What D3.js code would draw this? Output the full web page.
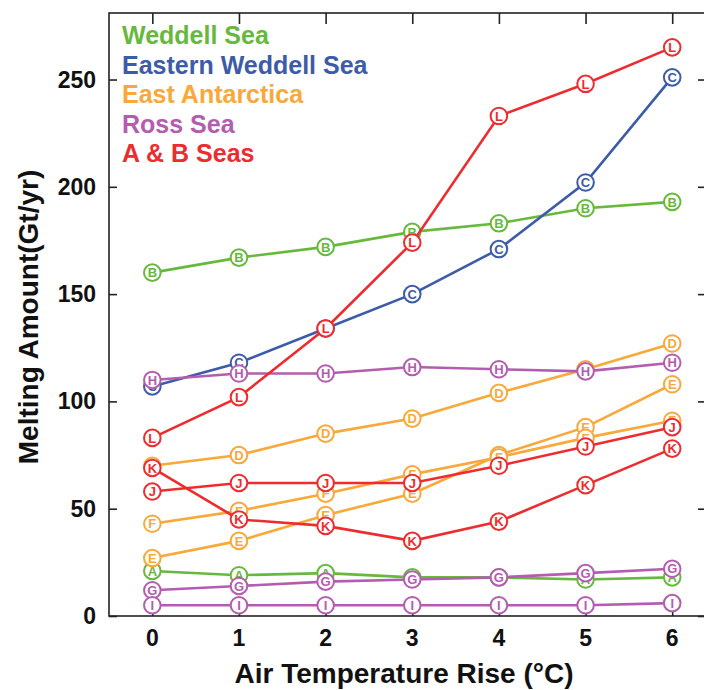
<!DOCTYPE html>
<html>
<head>
<meta charset="utf-8">
<script src="https://cdn.jsdelivr.net/npm/d3@7"></script>
<style>
  body { margin: 0; background: #fff; }
  svg { display: block; font-family: "Liberation Sans", Arial, Helvetica, sans-serif; }
</style>
</head>
<body>
<svg id="chart" width="704" height="690"></svg>
<script>
// air temperature rise (°C)
const temps = [0, 1, 2, 3, 4, 5, 6];

// melting amount (Gt/yr), one array per marker letter
const seriesA = [21, 19, 20, 18, 18, 17, 18];
const seriesB = [160, 167, 172, 179, 183, 190, 193];
const seriesC = [107, 118, 134, 150, 171, 202, 251];
const seriesD = [70, 75, 85, 92, 104, 115, 127];
const seriesE = [27, 35, 47, 57, 75, 88, 108];
const seriesF = [43, 49, 57, 66, 74, 83, 91];
const seriesG = [12, 14, 16, 17, 18, 20, 22];
const seriesH = [110, 113, 113, 116, 115, 114, 118];
const seriesI = [5, 5, 5, 5, 5, 5, 6];
const seriesJ = [58, 62, 62, 62, 70, 79, 88];
const seriesK = [69, 45, 42, 35, 44, 61, 78];
const seriesL = [83, 102, 134, 174, 233, 248, 265];

const regions = ["Weddell Sea", "Eastern Weddell Sea", "East Antarctica", "Ross Sea", "A & B Seas"];
const regionColors = ["#66b93c", "#3c5ba8", "#f9a83a", "#b45db0", "#ee2c2f"];

const yTicks = [0, 50, 100, 150, 200, 250];

// letter -> region index, values
const series = [
  { key: "A", region: 0, values: seriesA },
  { key: "B", region: 0, values: seriesB },
  { key: "C", region: 1, values: seriesC },
  { key: "D", region: 2, values: seriesD },
  { key: "E", region: 2, values: seriesE },
  { key: "F", region: 2, values: seriesF },
  { key: "G", region: 3, values: seriesG },
  { key: "H", region: 3, values: seriesH },
  { key: "I", region: 3, values: seriesI },
  { key: "J", region: 4, values: seriesJ },
  { key: "K", region: 4, values: seriesK },
  { key: "L", region: 4, values: seriesL },
];

const svg = d3.select("#chart");

const plotLeft = 109, plotRight = 706, plotTop = 13, plotBottom = 616;

const x = d3.scaleLinear().domain([-0.5, 6.39]).range([plotLeft, plotRight]);
const y = d3.scaleLinear().domain([0, 281]).range([plotBottom, plotTop]);

// frame
svg.append("rect")
  .attr("x", plotLeft).attr("y", plotTop)
  .attr("width", plotRight - plotLeft).attr("height", plotBottom - plotTop)
  .attr("fill", "none").attr("stroke", "#222").attr("stroke-width", 1.6);

// axes with inward ticks
const bottomAxis = svg.append("g")
  .attr("transform", "translate(0," + plotBottom + ")")
  .call(d3.axisTop(x).tickValues(temps).tickSize(10).tickFormat(""));
const topAxis = svg.append("g")
  .attr("transform", "translate(0," + plotTop + ")")
  .call(d3.axisBottom(x).tickValues(temps).tickSize(11).tickFormat(""));
const leftAxis = svg.append("g")
  .attr("transform", "translate(" + plotLeft + ",0)")
  .call(d3.axisRight(y).tickValues(yTicks).tickSize(8).tickFormat(""));
const rightAxis = svg.append("g")
  .attr("transform", "translate(" + plotRight + ",0)")
  .call(d3.axisLeft(y).tickValues(yTicks).tickSize(8).tickFormat(""));

[bottomAxis, topAxis, leftAxis, rightAxis].forEach((g) => {
  g.select(".domain").remove();
  g.selectAll(".tick line").attr("stroke", "#222").attr("stroke-width", 1.6);
});

// tick labels
svg.append("g").selectAll("text")
  .data(temps).enter().append("text")
  .attr("x", (d) => x(d))
  .attr("y", plotBottom + 30)
  .attr("text-anchor", "middle")
  .attr("font-size", 23).attr("font-weight", "bold").attr("fill", "#111")
  .text((d) => d);

svg.append("g").selectAll("text")
  .data(yTicks).enter().append("text")
  .attr("x", plotLeft - 13)
  .attr("y", (d) => y(d) + 8)
  .attr("text-anchor", "end")
  .attr("font-size", 23).attr("font-weight", "bold").attr("fill", "#111")
  .text((d) => d);

// axis titles
svg.append("text")
  .attr("x", 404).attr("y", 683)
  .attr("text-anchor", "middle")
  .attr("font-size", 28).attr("font-weight", "bold").attr("fill", "#111")
  .text("Air Temperature Rise (°C)");

svg.append("text")
  .attr("transform", "translate(38,317) rotate(-90)")
  .attr("text-anchor", "middle")
  .attr("font-size", 28).attr("font-weight", "bold").attr("fill", "#111")
  .text("Melting Amount(Gt/yr)");

// lines and letter markers
const line = d3.line()
  .x((d, i) => x(temps[i]))
  .y((d) => y(d));

series.forEach((s) => {
  const c = regionColors[s.region];
  const g = svg.append("g").attr("class", "series");

  g.append("path")
    .attr("d", line(s.values))
    .attr("fill", "none")
    .attr("stroke", c)
    .attr("stroke-width", 2.6);

  const m = g.selectAll("g.marker")
    .data(s.values).enter().append("g")
    .attr("class", "marker")
    .attr("transform", (d, i) => "translate(" + x(temps[i]) + "," + y(d) + ")");

  m.append("circle")
    .attr("r", 8.3)
    .attr("fill", "#fff")
    .attr("stroke", c)
    .attr("stroke-width", 2);

  m.append("text")
    .attr("y", 4.7)
    .attr("text-anchor", "middle")
    .attr("font-size", 13).attr("font-weight", "bold")
    .attr("fill", c)
    .text(s.key);
});

// legend
svg.append("g").selectAll("text")
  .data(regions).enter().append("text")
  .attr("x", 122)
  .attr("y", (d, i) => 44 + i * 29.6)
  .attr("font-size", 25).attr("font-weight", "bold")
  .attr("fill", (d, i) => regionColors[i])
  .text((d) => d);
</script>
</body>
</html>
